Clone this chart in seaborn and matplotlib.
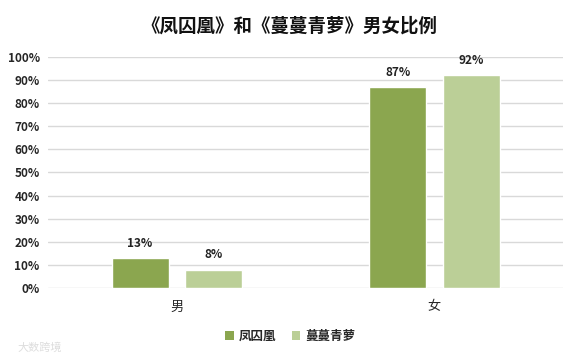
import matplotlib
matplotlib.use("Agg")
import matplotlib.pyplot as plt
import seaborn as sns
import pandas as pd
from matplotlib.ticker import PercentFormatter, MultipleLocator
from matplotlib.patches import Patch

categories = ["男", "女"]
series_names = ["凤囚凰", "蔓蔓青萝"]
fengqiuhuang = [0.13, 0.87]
manmanqingluo = [0.08, 0.92]
colors = ["#8ba64f", "#bbcf97"]

df = pd.DataFrame({
    "category": categories * 2,
    "series": [series_names[0]] * 2 + [series_names[1]] * 2,
    "value": fengqiuhuang + manmanqingluo,
})

sns.set_theme(style="white")
plt.rcParams["font.family"] = ["Noto Sans CJK SC", "DejaVu Sans"]

fig = plt.figure(figsize=(5.75, 3.6), dpi=100)
ax = fig.add_axes([0.0835, 0.2, 0.896, 0.6417])

sns.barplot(data=df, x="category", y="value", hue="series", order=categories,
            hue_order=series_names, palette=colors, width=0.571, gap=0.225,
            saturation=1, ax=ax, legend=False, zorder=3)

ax.set_ylim(0, 1.0)
ax.yaxis.set_major_locator(MultipleLocator(0.1))
ax.yaxis.set_major_formatter(PercentFormatter(1.0, decimals=0))
ax.grid(axis="y", color="#d9d9d9", linewidth=1, zorder=0)
ax.set_axisbelow(True)
for s in ax.spines.values():
    s.set_visible(False)
ax.set_xlabel("")
ax.set_ylabel("")
ax.tick_params(axis="y", length=0, pad=6, labelsize=8.5)
ax.tick_params(axis="x", length=0, pad=9, labelsize=9.5)
for lbl in ax.get_yticklabels():
    lbl.set_fontweight("bold")
for lbl in ax.get_xticklabels():
    lbl.set_fontweight("medium")

for container in ax.containers:
    ax.bar_label(container, labels=[f"{v*100:.0f}%" for v in container.datavalues],
                 padding=6, fontsize=8.5, fontweight="bold", color="#222222")

fig.text(0.504, 0.927, "《凤囚凰》和《蔓蔓青萝》男女比例", ha="center", va="center",
         fontsize=13.3, fontweight="heavy", color="#111111")

handles = [Patch(facecolor=c, edgecolor="none") for c in colors]
fig.legend(handles, series_names, loc="center", bbox_to_anchor=(0.505, 0.065),
           ncol=2, frameon=False, prop={"size": 9, "weight": "bold"},
           handlelength=0.7, handleheight=0.7,
           handletextpad=0.4, columnspacing=1.2)

fig.text(0.03, 0.035, "大数跨境", fontsize=8, color="#dddddd", ha="left", va="center")

fig.savefig("out.png", dpi=100, facecolor="white")
